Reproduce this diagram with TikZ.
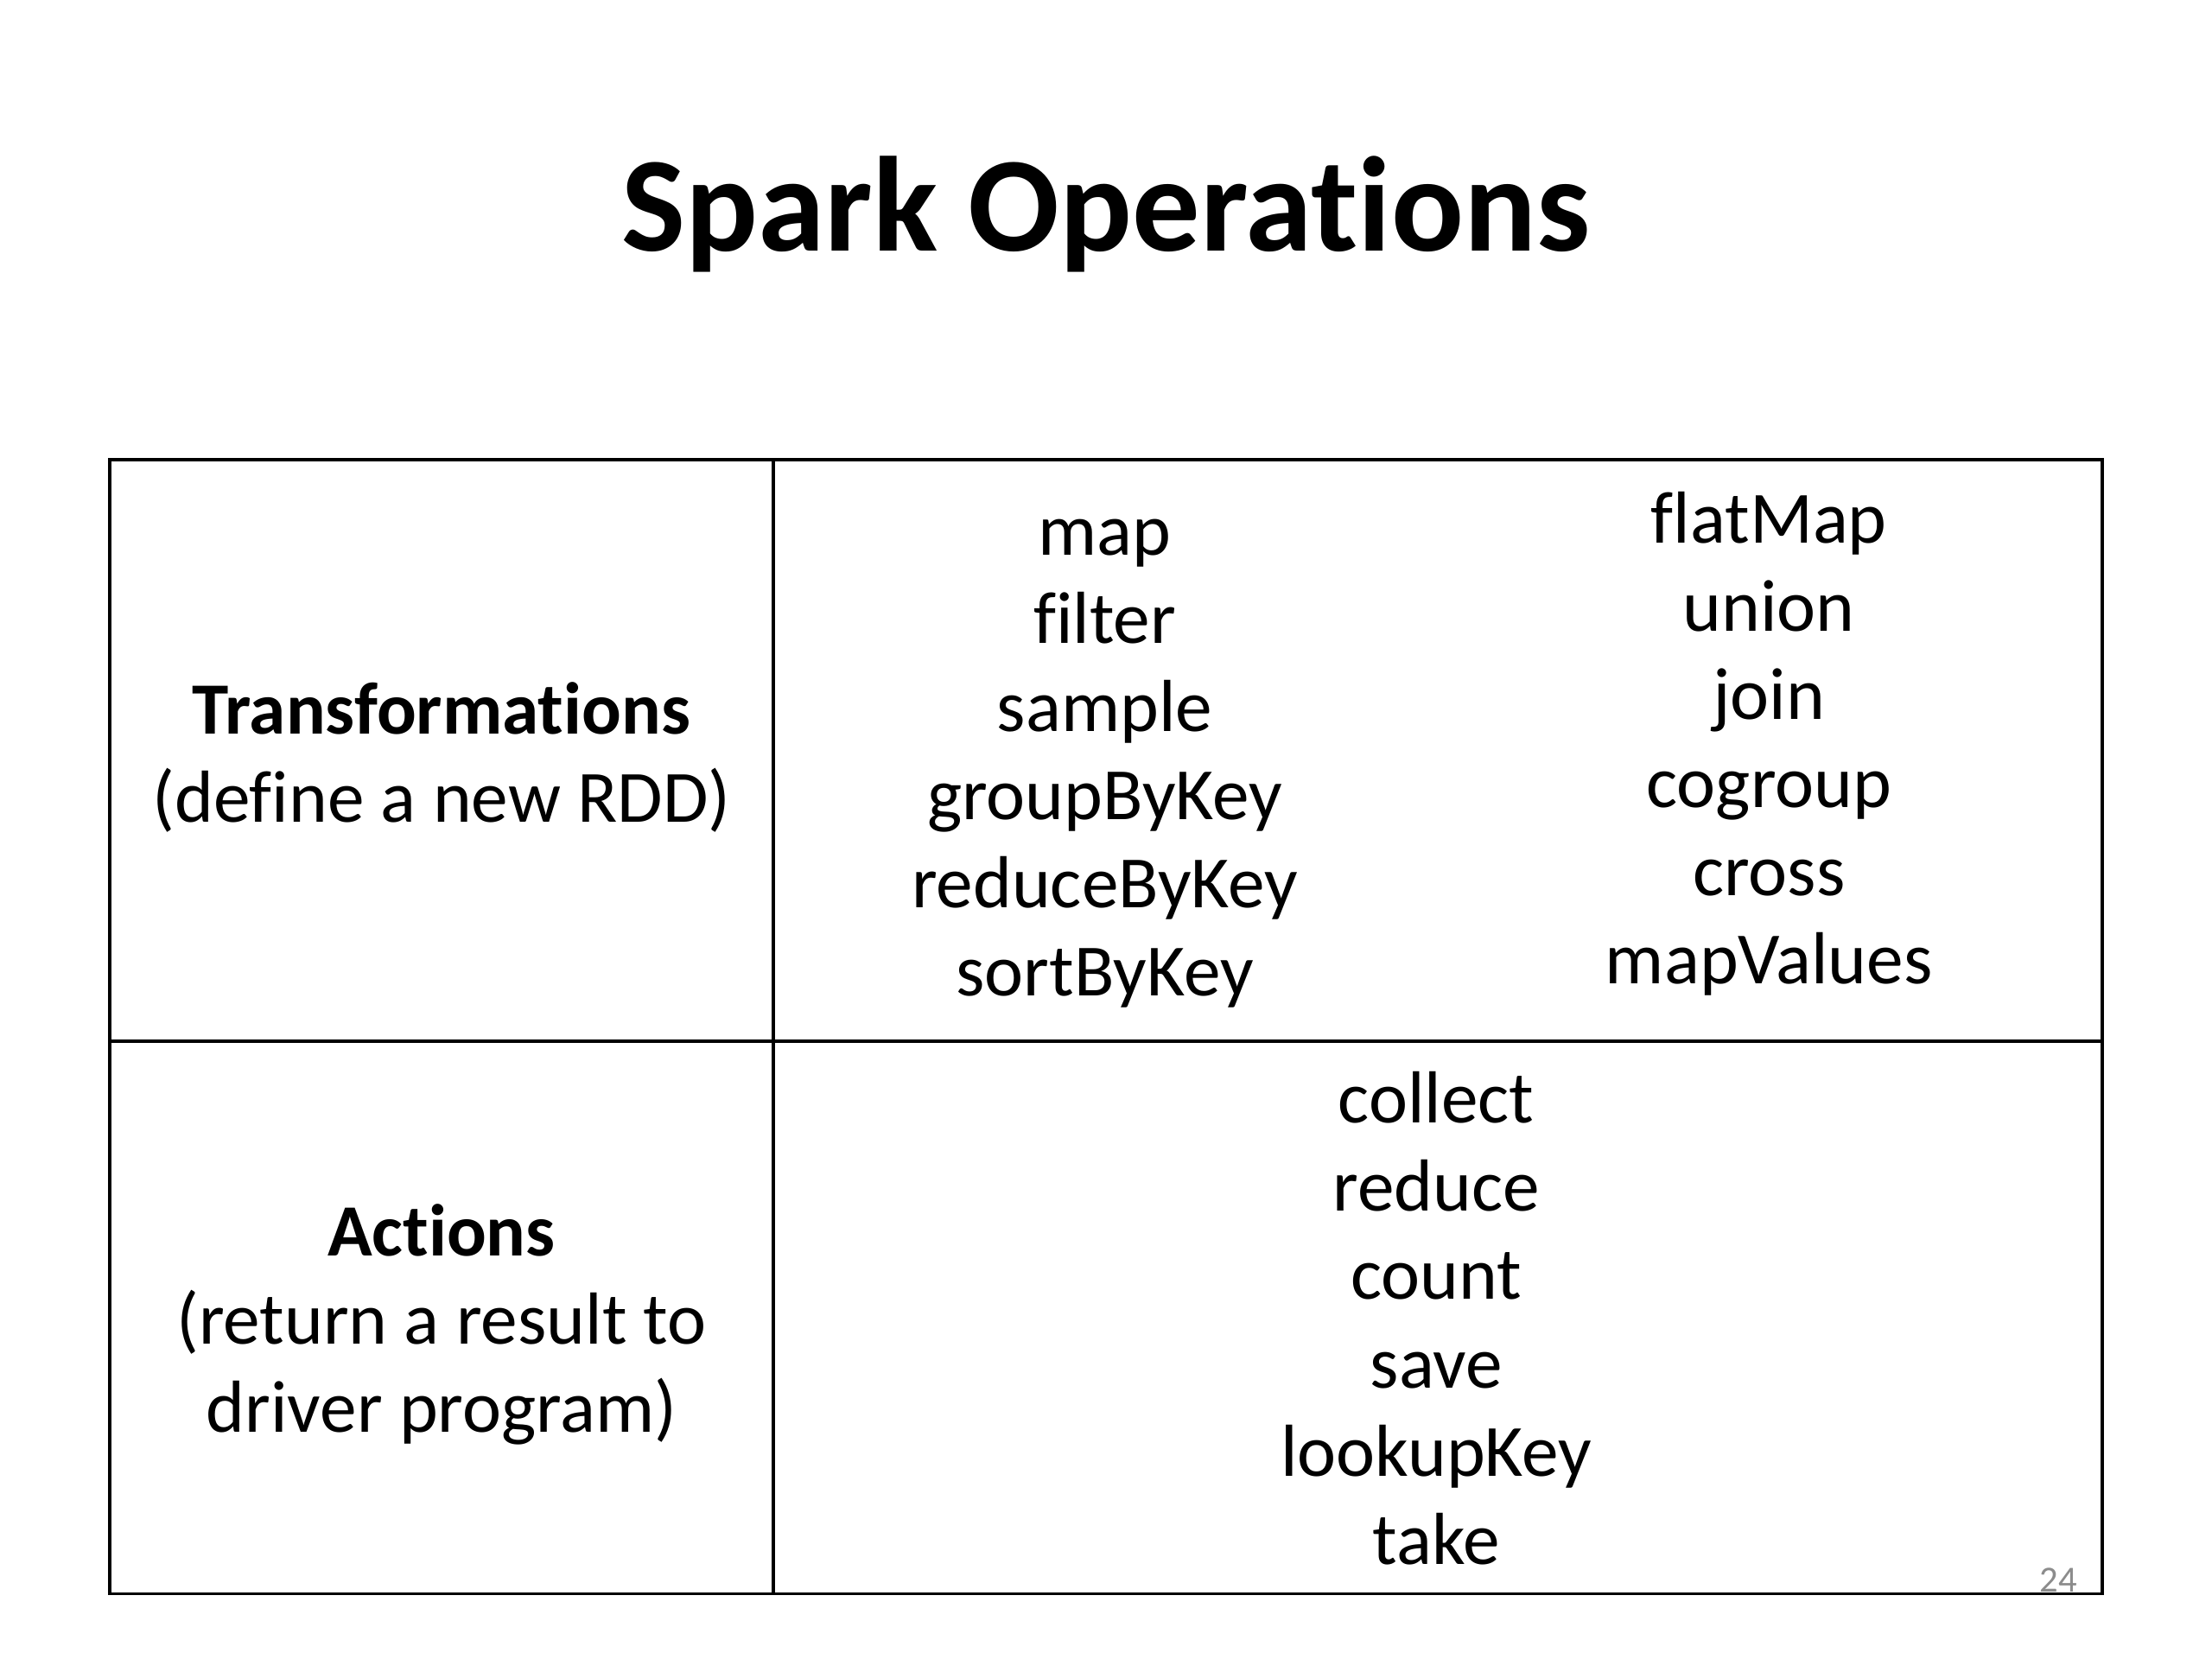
\documentclass[tikz,border=0pt]{standalone}
\usepackage{fontspec}
\setmainfont[Ligatures={NoCommon,NoRequired,NoContextual}]{Carlito}
\begin{document}
\begin{tikzpicture}[x=1pt,y=-1pt,
  cell/.style={align=center,inner sep=0pt,font=\fontsize{24}{28.7}\selectfont},
  grid/.style={line width=1pt,black}]
\useasboundingbox[fill=white] (0,0) rectangle (720,540);
% title
\node[anchor=base,inner sep=0pt,font=\fontsize{44}{52}\selectfont\bfseries] (title) at (360,81.8) {Spark Operations};
% table
\draw[grid] (35.7,149.6) rectangle (684.2,518.8);
\draw[grid] (35.7,338.9) -- (684.2,338.9);
\draw[grid] (251.7,149.6) -- (251.7,518.8);
% cells
\node[cell] (trans) at (143.7,246.4) {\textbf{Transformations}\\(define a new RDD)};
\node[cell] (tc1) at (359.6,248.6) {map\\filter\\sample\\groupByKey\\reduceByKey\\sortByKey};
\node[cell] (tc2) at (575.8,242.0) {flatMap\\union\\join\\cogroup\\cross\\mapValues};
\node[cell] (act) at (143.7,431.1) {\textbf{Actions}\\(return a result to\\driver program)};
\node[cell] (ac) at (467.5,429.1) {collect\\reduce\\count\\save\\lookupKey\\take};
% page number
\node[anchor=base east,inner sep=0pt,text=black!45,font=\fontsize{12}{14}\selectfont] (pg) at (676.3,518.3) {24};
\end{tikzpicture}
\end{document}
